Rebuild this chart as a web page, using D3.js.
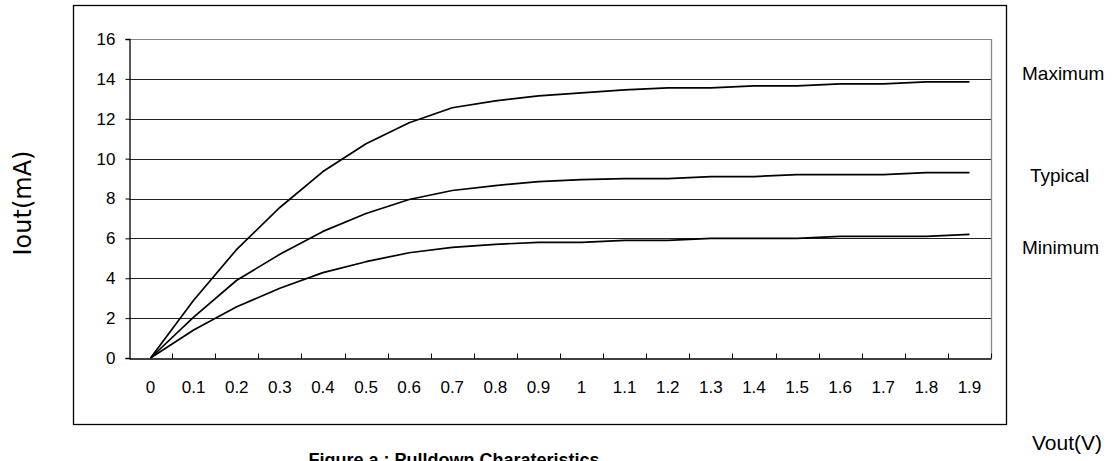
<!DOCTYPE html>
<html>
<head>
<meta charset="utf-8">
<script src="https://cdn.jsdelivr.net/npm/d3@7"></script>
<style>
  html, body { margin: 0; padding: 0; background: #fff; }
  svg { display: block; }
  text { fill: #000; }
</style>
</head>
<body>
<svg id="chart" width="1117" height="461"></svg>
<script>
// ---- data ----
const categories = ["0","0.1","0.2","0.3","0.4","0.5","0.6","0.7","0.8","0.9","1","1.1","1.2","1.3","1.4","1.5","1.6","1.7","1.8","1.9"];
const maximum = [0, 2.9, 5.45, 7.55, 9.35, 10.75, 11.8, 12.55, 12.9, 13.15, 13.3, 13.45, 13.55, 13.55, 13.65, 13.65, 13.75, 13.75, 13.85, 13.85];
const typical = [0, 2.05, 3.9, 5.2, 6.35, 7.25, 7.95, 8.4, 8.65, 8.85, 8.95, 9.0, 9.0, 9.1, 9.1, 9.2, 9.2, 9.2, 9.3, 9.3];
const minimum = [0, 1.4, 2.57, 3.5, 4.28, 4.83, 5.28, 5.55, 5.7, 5.8, 5.8, 5.9, 5.9, 6.0, 6.0, 6.0, 6.1, 6.1, 6.1, 6.2];
const seriesNames = ["Maximum", "Typical", "Minimum"];
const yTicks = [0, 2, 4, 6, 8, 10, 12, 14, 16];
const xTitle = "Vout(V)";
const yTitle = "Iout(mA)";
const caption = "Figure a : Pulldown Charateristics";

// ---- layout ----
const SANS = "'Liberation Sans', Arial, sans-serif";
const svg = d3.select("#chart");
const plot = { left: 129, right: 991, top: 39, bottom: 358 };

const x = d3.scaleBand().domain(categories).range([plot.left, plot.right]).padding(0);
const y = d3.scaleLinear().domain([0, 16]).range([plot.bottom, plot.top]);
const cx = c => x(c) + x.bandwidth() / 2;

// outer frame
svg.append("rect")
  .attr("x", 73.5).attr("y", 5.5).attr("width", 933).attr("height", 419)
  .attr("fill", "none").attr("stroke", "#000").attr("stroke-width", 1.3);

// gridlines
svg.append("g").selectAll("line")
  .data(yTicks.filter(d => d > 0))
  .join("line")
  .attr("x1", plot.left).attr("x2", plot.right)
  .attr("y1", d => Math.round(y(d)) + 0.5).attr("y2", d => Math.round(y(d)) + 0.5)
  .attr("stroke", d => d === 16 ? "#888" : "#222").attr("stroke-width", 1);

// right border of plot area
svg.append("line")
  .attr("x1", plot.right + 0.5).attr("x2", plot.right + 0.5)
  .attr("y1", plot.top).attr("y2", plot.bottom)
  .attr("stroke", "#888").attr("stroke-width", 1.3);

// y axis
const yAxis = d3.axisLeft(y).tickValues(yTicks).tickSize(4).tickPadding(10).tickFormat(d3.format("d"));
const gy = svg.append("g").attr("transform", `translate(${plot.left + 0.5},0)`).call(yAxis);
gy.select(".domain").attr("stroke", "#000").attr("stroke-width", 1.3);
gy.selectAll(".tick line").attr("stroke", "#000");
gy.selectAll(".tick text").style("font-size", "17px").style("font-family", SANS).attr("fill", "#000");

// x axis (labels at band centres, tick marks at band boundaries)
const xAxis = d3.axisBottom(x).tickSize(0).tickPadding(22);
const gx = svg.append("g").attr("transform", `translate(0,${plot.bottom + 0.5})`).call(xAxis);
gx.select(".domain").attr("stroke", "#000").attr("stroke-width", 1.3);
gx.selectAll(".tick text").style("font-size", "17px").style("font-family", SANS).attr("fill", "#000");
gx.append("g").selectAll("line")
  .data(categories.slice(1).concat(["end"]))
  .join("line")
  .attr("x1", (d, i) => Math.round(x(categories[0]) + x.step() * (i + 1)) + 0.5)
  .attr("x2", (d, i) => Math.round(x(categories[0]) + x.step() * (i + 1)) + 0.5)
  .attr("y1", -5).attr("y2", 0)
  .attr("stroke", "#000");

// lines
const line = d3.line().x((d, i) => cx(categories[i])).y(d => y(d));
[maximum, typical, minimum].forEach(s => {
  svg.append("path").datum(s).attr("d", line)
    .attr("fill", "none").attr("stroke", "#000").attr("stroke-width", 1.7)
    .attr("stroke-linejoin", "round");
});

// series labels
const labelPos = [
  { name: seriesNames[0], x: 1022, y: 80 },
  { name: seriesNames[1], x: 1030, y: 182 },
  { name: seriesNames[2], x: 1022, y: 254 }
];
svg.append("g").selectAll("text").data(labelPos).join("text")
  .attr("x", d => d.x).attr("y", d => d.y)
  .style("font-family", SANS).style("font-size", "19px")
  .text(d => d.name);

// axis titles
svg.append("text")
  .attr("transform", "translate(31,203) rotate(-90)")
  .attr("text-anchor", "middle")
  .style("font-family", "'DejaVu Sans', sans-serif")
  .style("font-size", "24px")
  .text(yTitle);

svg.append("text")
  .attr("x", 1102).attr("y", 450)
  .attr("text-anchor", "end")
  .style("font-family", SANS).style("font-size", "21px")
  .text(xTitle);

// caption (partly cut off by the bottom edge, as in the reference)
svg.append("text")
  .attr("x", 454).attr("y", 466)
  .attr("text-anchor", "middle")
  .style("font-family", SANS).style("font-weight", "bold").style("font-size", "18px")
  .text(caption);
</script>
</body>
</html>
